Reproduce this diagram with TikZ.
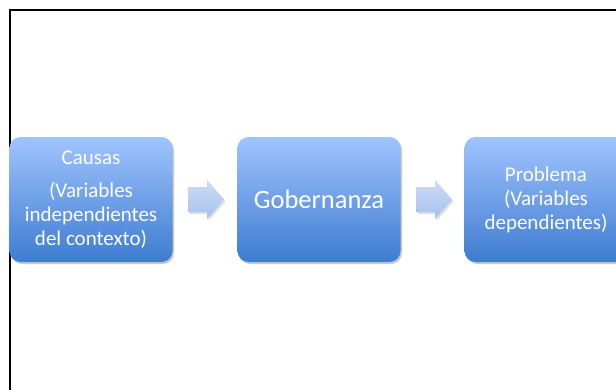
\documentclass[tikz,border=0pt]{standalone}
\usepackage{fontspec}
\setmainfont{Carlito}
\usetikzlibrary{shadows,shadings}
\definecolor{boxtop}{RGB}{160,196,255}
\definecolor{boxbot}{RGB}{62,124,208}
\definecolor{arrtop}{RGB}{205,220,246}
\definecolor{arrbot}{RGB}{166,192,236}
\tikzset{
  flowbox/.style={rectangle, rounded corners=11pt, minimum width=163pt, minimum height=125pt,
    top color=boxtop, bottom color=boxbot, text=white, align=center, inner sep=0pt,
    drop shadow={shadow xshift=1.5pt, shadow yshift=-2pt, opacity=0.35, fill=black!60},
    font=\fontsize{21}{24}\selectfont},
  blockarrow/.style={top color=arrtop, bottom color=arrbot, draw=none,
    drop shadow={shadow xshift=1.5pt, shadow yshift=-2pt, opacity=0.25, fill=black!50}},
}
\begin{document}
\begin{tikzpicture}[x=1pt,y=-1pt]
\useasboundingbox (0,0) rectangle (616,389);
\clip (0,0) rectangle (616,389);
\fill[white] (0,0) rectangle (616,389);
\draw[line width=1.6pt, black] (9.8,9.8) rectangle (640,410);
\node[flowbox] (causas) at (91,199.5) {Causas\\[9pt](Variables\\independientes\\del contexto)};
\node[flowbox] (gob) at (319,199.5) {\fontsize{26.5}{30}\selectfont Gobernanza};
\node[flowbox] (prob) at (546,199.5) {Problema\\(Variables\\dependientes)};
% block arrows
\path[blockarrow] (188,187) -- (207,187) -- (207,180) -- (224,199.5) -- (207,219) -- (207,212) -- (188,212) -- cycle;
\path[blockarrow] (416,187) -- (435,187) -- (435,180) -- (452,199.5) -- (435,219) -- (435,212) -- (416,212) -- cycle;
\end{tikzpicture}
\end{document}
